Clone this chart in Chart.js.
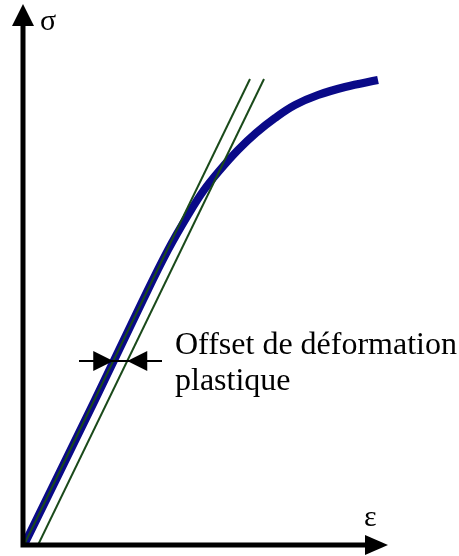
<!DOCTYPE html>
<html>
<head>
<meta charset="utf-8">
<script src="https://cdn.jsdelivr.net/npm/chart.js@4/dist/chart.umd.min.js"></script>
<style>
    html, body { margin: 0; padding: 0; background: #fff; }
    #wrap { width: 459px; height: 556px; }
</style>
</head>
<body>
<div id="wrap"><canvas id="stressStrain" width="459" height="556"></canvas></div>
<script>

// strain / stress in arbitrary units (no ticks on the original)
const curveStrain = [0, 0.71, 1.19, 1.44, 1.64, 1.80, 1.96, 2.14, 2.32, 2.51, 2.71, 2.94, 3.21, 3.54];
const curveStress = [0, 1.45, 2.45, 2.95, 3.30, 3.55, 3.75, 3.95, 4.12, 4.27, 4.40, 4.50, 4.58, 4.65];

const elasticStrain = [0, 2.26];
const elasticStress = [0, 4.66];

const offsetStrain = [0.14, 2.40];
const offsetStress = [0, 4.66];

// level of the "offset" dimension arrows
const offsetMarkStress = 1.84;

const axisLabels = ['σ', 'ε'];
const noteLines = ['Offset de déformation', 'plastique'];

function toPoints(xs, ys) {
    return xs.map(function (x, i) {
        return { x: x, y: ys[i] };
    });
}

function lineX(xs, ys, yValue) {
    return xs[0] + (xs[1] - xs[0]) * (yValue - ys[0]) / (ys[1] - ys[0]);
}

function triangle(ctx, tipX, tipY, baseX, half) {
    ctx.beginPath();
    ctx.moveTo(tipX, tipY);
    ctx.lineTo(baseX, tipY - half);
    ctx.lineTo(baseX, tipY + half);
    ctx.closePath();
    ctx.fill();
}

const sketchPlugin = {
    id: 'sketch',
    afterDatasetsDraw: function (chart) {
        const ctx = chart.ctx;
        const xs = chart.scales.x;
        const ys = chart.scales.y;
        const ox = xs.getPixelForValue(0) - 1;
        const oy = ys.getPixelForValue(0);

        ctx.save();
        ctx.fillStyle = '#000';
        ctx.strokeStyle = '#000';

        // axes
        ctx.lineWidth = 5;
        ctx.beginPath();
        ctx.moveTo(ox, oy + 2.5);
        ctx.lineTo(ox, 24);
        ctx.moveTo(ox - 2.5, oy);
        ctx.lineTo(367, oy);
        ctx.stroke();

        // axis arrowheads
        ctx.beginPath();
        ctx.moveTo(ox, 4);
        ctx.lineTo(ox - 11, 26);
        ctx.lineTo(ox + 11, 26);
        ctx.closePath();
        ctx.fill();
        triangle(ctx, 388, oy, 365, 10);

        // axis labels
        ctx.font = '30px "Liberation Serif", "Times New Roman", serif';
        ctx.textBaseline = 'alphabetic';
        ctx.fillText(axisLabels[0], 40, 30);
        ctx.fillText(axisLabels[1], 364, 526);

        // offset dimension arrows between the two straight lines
        const my = ys.getPixelForValue(offsetMarkStress);
        const leftX = xs.getPixelForValue(lineX(elasticStrain, elasticStress, offsetMarkStress));
        const rightX = xs.getPixelForValue(lineX(offsetStrain, offsetStress, offsetMarkStress));

        ctx.lineWidth = 2;
        ctx.beginPath();
        ctx.moveTo(79, my);
        ctx.lineTo(162, my);
        ctx.stroke();
        triangle(ctx, leftX, my, leftX - 20, 10);
        triangle(ctx, rightX, my, rightX + 20, 10);

        // note
        ctx.font = '32px "Liberation Serif", "Times New Roman", serif';
        ctx.fillText(noteLines[0], 175, 354);
        ctx.fillText(noteLines[1], 175, 390);

        ctx.restore();
    }
};

new Chart(document.getElementById('stressStrain'), {

    type: 'scatter',

    data: {
        datasets: [
            {
                label: 'elastic',
                data: toPoints(elasticStrain, elasticStress),
                showLine: true,
                borderColor: '#1a4a1a',
                borderWidth: 2,
                pointRadius: 0
            },
            {
                label: 'offset',
                data: toPoints(offsetStrain, offsetStress),
                showLine: true,
                borderColor: '#1a4a1a',
                borderWidth: 2,
                pointRadius: 0
            },
            {
                label: 'curve',
                data: toPoints(curveStrain, curveStress),
                showLine: true,
                borderColor: '#0a0a88',
                borderWidth: 8,
                borderCapStyle: 'butt',
                tension: 0.4,
                pointRadius: 0
            }
        ]
    },

    options: {
        responsive: false,
        animation: false,
        layout: {
            padding: { left: 24, right: 0, top: 0, bottom: 11 }
        },
        plugins: {
            legend: { display: false },
            tooltip: { enabled: false }
        },
        scales: {
            x: { type: 'linear', min: 0, max: 4.35, display: false },
            y: { type: 'linear', min: 0, max: 5.45, display: false }
        }
    },

    plugins: [sketchPlugin]

});

</script>
</body>
</html>
